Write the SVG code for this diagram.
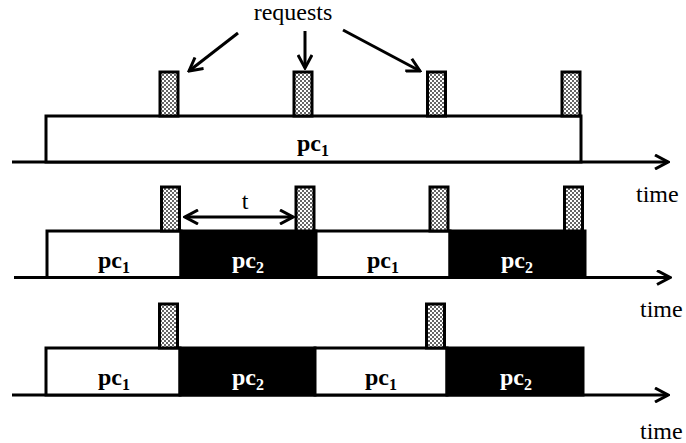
<svg xmlns="http://www.w3.org/2000/svg" width="686" height="443" viewBox="0 0 686 443">
<defs>
<pattern id="hatch" width="4" height="4" patternUnits="userSpaceOnUse">
<rect width="4" height="4" fill="#ffffff"/>
<rect x="0" y="0" width="2" height="2" fill="#666666"/>
<rect x="2" y="2" width="2" height="2" fill="#666666"/>
</pattern>
<marker id="head" viewBox="0 0 16 16" refX="14" refY="8" markerWidth="16" markerHeight="16" markerUnits="userSpaceOnUse" orient="auto-start-reverse">
<path d="M1,1 L14,8 L1,15" fill="none" stroke="#000" stroke-width="3"/>
</marker>
</defs>
<style>
.req{fill:url(#hatch);stroke:#000;stroke-width:3}
.w{fill:#fff;stroke:#000;stroke-width:3}
.b{fill:#000;stroke:#000;stroke-width:3}
.ax{stroke:#000;stroke-width:3;fill:none;marker-end:url(#head)}
.arr{stroke:#000;stroke-width:3;fill:none;marker-end:url(#head)}
text{font-family:'Liberation Serif','Times New Roman',serif}
.lbl{font-size:24px;fill:#000}
.pc{font-size:24px;font-weight:bold}
.sub{font-size:16px}
</style>

<g id="header">
<text class="lbl" x="293" y="20" text-anchor="middle">requests</text>
</g>

<g id="connectors">
<line class="arr" x1="238" y1="33" x2="189" y2="71"/>
<line class="arr" x1="305" y1="31" x2="305" y2="68"/>
<line class="arr" x1="343" y1="30" x2="420" y2="71"/>
<line class="ax" x1="12" y1="162" x2="668" y2="162"/>
<line class="ax" x1="14" y1="277.5" x2="670" y2="277.5"/>
<line class="ax" x1="12" y1="395" x2="668" y2="395"/>
<line class="arr" x1="185" y1="217" x2="293" y2="217" style="marker-start:url(#head)"/>
</g>

<g id="row1">
<rect class="w" x="46" y="116" width="535" height="46"/>
<rect class="req" x="160" y="72" width="18" height="44"/>
<rect class="req" x="294" y="72" width="18" height="44"/>
<rect class="req" x="427.5" y="72" width="18" height="44"/>
<rect class="req" x="562" y="72" width="18" height="44"/>
<text class="pc" x="313" y="151" text-anchor="middle">pc<tspan class="sub" dy="5">1</tspan></text>
</g>

<g id="row2">
<rect class="w" x="47" y="231" width="134" height="46.5"/>
<rect class="b" x="181" y="231" width="135" height="46.5"/>
<rect class="w" x="316" y="231" width="134" height="46.5"/>
<rect class="b" x="450" y="231" width="135" height="46.5"/>
<rect class="req" x="161.5" y="187" width="18" height="44"/>
<rect class="req" x="296" y="187" width="18" height="44"/>
<rect class="req" x="430" y="187" width="18" height="44"/>
<rect class="req" x="564.5" y="187" width="18" height="44"/>
<text class="lbl" x="245" y="209" text-anchor="middle">t</text>
<text class="pc" x="114" y="268" text-anchor="middle">pc<tspan class="sub" dy="5">1</tspan></text>
<text class="pc" x="248" y="268" text-anchor="middle" fill="#fff">pc<tspan class="sub" dy="5">2</tspan></text>
<text class="pc" x="383" y="268" text-anchor="middle">pc<tspan class="sub" dy="5">1</tspan></text>
<text class="pc" x="517" y="268" text-anchor="middle" fill="#fff">pc<tspan class="sub" dy="5">2</tspan></text>
<text class="lbl" x="636" y="202">time</text>
</g>

<g id="row3">
<rect class="w" x="46" y="348" width="134" height="47"/>
<rect class="b" x="180" y="348" width="135" height="47"/>
<rect class="w" x="315" y="348" width="132" height="47"/>
<rect class="b" x="447" y="348" width="136" height="47"/>
<rect class="req" x="159.5" y="304" width="18" height="44"/>
<rect class="req" x="426.5" y="304" width="18" height="44"/>
<text class="pc" x="114" y="385" text-anchor="middle">pc<tspan class="sub" dy="5">1</tspan></text>
<text class="pc" x="248" y="385" text-anchor="middle" fill="#fff">pc<tspan class="sub" dy="5">2</tspan></text>
<text class="pc" x="381" y="385" text-anchor="middle">pc<tspan class="sub" dy="5">1</tspan></text>
<text class="pc" x="516" y="385" text-anchor="middle" fill="#fff">pc<tspan class="sub" dy="5">2</tspan></text>
<text class="lbl" x="640" y="317">time</text>
<text class="lbl" x="640" y="439">time</text>
</g>
</svg>
